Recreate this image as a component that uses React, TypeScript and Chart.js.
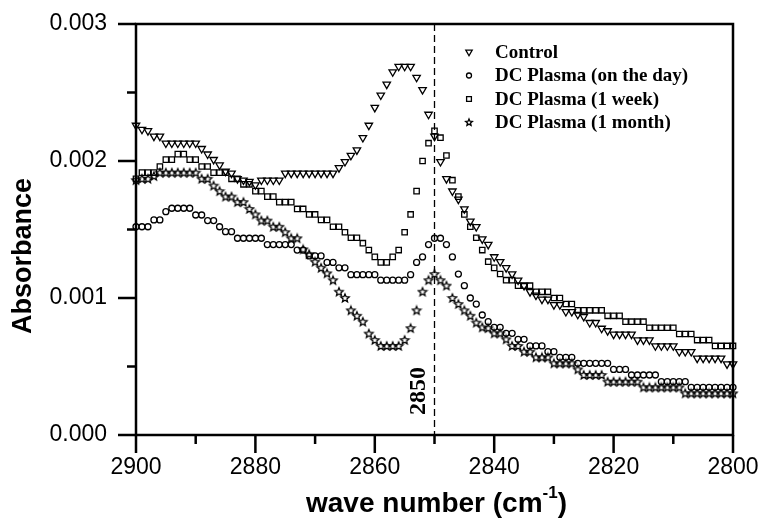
import React, { useEffect, useRef } from 'react';
import { Chart, registerables } from 'chart.js';

Chart.register(...registerables);

// ---------- data ----------
const wavenumbers = [
  2900, 2899, 2898, 2897, 2896, 2895, 2894, 2893, 2892, 2891,
  2890, 2889, 2888, 2887, 2886, 2885, 2884, 2883, 2882, 2881,
  2880, 2879, 2878, 2877, 2876, 2875, 2874, 2873, 2872, 2871,
  2870, 2869, 2868, 2867, 2866, 2865, 2864, 2863, 2862, 2861,
  2860, 2859, 2858, 2857, 2856, 2855, 2854, 2853, 2852, 2851,
  2850, 2849, 2848, 2847, 2846, 2845, 2844, 2843, 2842, 2841,
  2840, 2839, 2838, 2837, 2836, 2835, 2834, 2833, 2832, 2831,
  2830, 2829, 2828, 2827, 2826, 2825, 2824, 2823, 2822, 2821,
  2820, 2819, 2818, 2817, 2816, 2815, 2814, 2813, 2812, 2811,
  2810, 2809, 2808, 2807, 2806, 2805, 2804, 2803, 2802, 2801,
  2800,
];

const control = [
  0.00226, 0.00223, 0.00222, 0.00218, 0.00218, 0.00213, 0.00213, 0.00213, 0.00213, 0.00213,
  0.00213, 0.00209, 0.00205, 0.00201, 0.00197, 0.001925, 0.00191, 0.00187, 0.00186, 0.00185,
  0.001825, 0.00186, 0.00186, 0.00186, 0.00186, 0.00191, 0.00191, 0.00191, 0.00191, 0.00191,
  0.00191, 0.00191, 0.00191, 0.00191, 0.00195, 0.001995, 0.00204, 0.00208, 0.00217, 0.00226,
  0.00239, 0.00248, 0.00256, 0.00265, 0.00269, 0.00269, 0.00269, 0.00261, 0.00252, 0.00234,
  0.00218, 0.001995, 0.00187, 0.00178, 0.00172, 0.00165, 0.00156, 0.00152, 0.00143, 0.00139,
  0.0013, 0.001265, 0.00122, 0.001175, 0.00113, 0.00109, 0.001045, 0.00102, 0.00099, 0.00099,
  0.00095, 0.00095, 0.0009, 0.0009, 0.00088, 0.000864, 0.00082, 0.00082, 0.000778, 0.00076,
  0.000735, 0.000735, 0.000735, 0.000735, 0.000693, 0.000693, 0.000693, 0.00065, 0.00065, 0.00065,
  0.00065, 0.000608, 0.000608, 0.000608, 0.00056, 0.00056, 0.00056, 0.00056, 0.00056, 0.000518,
  0.000518,
];

const dcOnTheDay = [
  0.00152, 0.00152, 0.00152, 0.00157, 0.00157, 0.00163, 0.001655, 0.001655, 0.001655, 0.001655,
  0.001606, 0.001606, 0.001565, 0.001565, 0.00152, 0.001484, 0.001484, 0.001436, 0.001436, 0.001436,
  0.001436, 0.001436, 0.00139, 0.00139, 0.00139, 0.00139, 0.00139, 0.00135, 0.00135, 0.001307,
  0.001307, 0.001307, 0.00126, 0.00126, 0.00122, 0.00122, 0.00117, 0.00117, 0.00117, 0.00117,
  0.00117, 0.00113, 0.00113, 0.00113, 0.00113, 0.00113, 0.00117, 0.00126, 0.0013, 0.00139,
  0.001436, 0.001436, 0.00139, 0.0013, 0.001175, 0.00109, 0.001, 0.000956, 0.000876, 0.000827,
  0.000786, 0.000786, 0.000742, 0.000742, 0.000698, 0.000698, 0.00065, 0.00065, 0.00065, 0.000608,
  0.000608, 0.000567, 0.000567, 0.000567, 0.000523, 0.000523, 0.000523, 0.000523, 0.000523, 0.000523,
  0.000479, 0.000479, 0.000479, 0.000438, 0.000438, 0.000438, 0.000438, 0.000438, 0.000389, 0.000389,
  0.000389, 0.000389, 0.000389, 0.000348, 0.000348, 0.000348, 0.000348, 0.000348, 0.000348, 0.000348,
  0.000348,
];

const dcOneWeek = [
  0.00187, 0.001915, 0.001915, 0.001915, 0.00196, 0.00201, 0.00201, 0.00205, 0.00205, 0.00201,
  0.00201, 0.00196, 0.00196, 0.001915, 0.001915, 0.001915, 0.00187, 0.00187, 0.00183, 0.00183,
  0.00178, 0.00178, 0.00174, 0.00174, 0.0017, 0.0017, 0.0017, 0.00165, 0.00165, 0.00161,
  0.00161, 0.00157, 0.00157, 0.00152, 0.00152, 0.00148, 0.00144, 0.00144, 0.0014, 0.00135,
  0.0013, 0.00126, 0.00126, 0.0013, 0.00135, 0.00148, 0.00161, 0.00178, 0.002, 0.00213,
  0.00222, 0.00217, 0.00204, 0.00186, 0.00174, 0.00161, 0.00152, 0.00144, 0.00135, 0.001265,
  0.00122, 0.001175, 0.00113, 0.00113, 0.00109, 0.00109, 0.00109, 0.001045, 0.001045, 0.001045,
  0.001, 0.001, 0.000956, 0.000956, 0.00091, 0.00091, 0.00091, 0.00091, 0.00091, 0.00087,
  0.00087, 0.00087, 0.000827, 0.000827, 0.000827, 0.000827, 0.000783, 0.000783, 0.000783, 0.000783,
  0.000783, 0.000737, 0.000737, 0.000737, 0.000693, 0.000693, 0.000693, 0.00065, 0.00065, 0.00065,
  0.00065,
];

const dcOneMonth = [
  0.00186, 0.00187, 0.00187, 0.00189, 0.001915, 0.001915, 0.001915, 0.001915, 0.001915, 0.001915,
  0.001915, 0.00187, 0.00187, 0.00182, 0.00178, 0.00174, 0.00174, 0.0017, 0.0017, 0.00165,
  0.00161, 0.001565, 0.001565, 0.00152, 0.00152, 0.00148, 0.001436, 0.001436, 0.001355, 0.00132,
  0.001265, 0.00122, 0.00118, 0.00113, 0.001046, 0.001, 0.00091, 0.00087, 0.000827, 0.00074,
  0.000693, 0.00065, 0.00065, 0.00065, 0.00065, 0.000693, 0.00078, 0.00091, 0.001046, 0.00113,
  0.001175, 0.00113, 0.00109, 0.001, 0.000956, 0.00091, 0.00087, 0.00082, 0.000786, 0.00078,
  0.000742, 0.000742, 0.000698, 0.00065, 0.00065, 0.000608, 0.000608, 0.000567, 0.000567, 0.000567,
  0.000523, 0.000523, 0.000523, 0.000523, 0.000479, 0.000438, 0.000438, 0.000438, 0.000438, 0.000389,
  0.000389, 0.000389, 0.000389, 0.000389, 0.000389, 0.000348, 0.000348, 0.000348, 0.000348, 0.000348,
  0.000348, 0.000348, 0.000304, 0.000304, 0.000304, 0.000304, 0.000304, 0.000304, 0.000304, 0.000304,
  0.000304,
];

const seriesLabels = ['Control', 'DC Plasma (on the day)', 'DC Plasma (1 week)', 'DC Plasma (1 month)'];
const xMajorTicks = [2900, 2880, 2860, 2840, 2820, 2800];
const xMinorTicks = [2890, 2870, 2850, 2830, 2810];
const yMajorTicks = [0, 0.001, 0.002, 0.003];
const yMinorTicks = [0.0005, 0.0015, 0.0025];
const markerWavenumber = 2850;
const markerLabel = '2850';
const xTitle = 'wave number (cm';
const xTitleSup = '-1';
const yTitle = 'Absorbance';

const SANS = '"Liberation Sans", Arial, Helvetica, sans-serif';
const SERIF = '"Liberation Serif", "Times New Roman", Times, serif';

type Kind = 'triangle' | 'circle' | 'square' | 'star';
const kinds: Kind[] = ['triangle', 'circle', 'square', 'star'];

function markerPath(ctx: CanvasRenderingContext2D, kind: Kind, x: number, y: number, s: number) {
  ctx.beginPath();
  if (kind === 'triangle') {
    ctx.moveTo(x, y + s);
    ctx.lineTo(x - s * 0.866, y - s * 0.5);
    ctx.lineTo(x + s * 0.866, y - s * 0.5);
    ctx.closePath();
  } else if (kind === 'circle') {
    ctx.arc(x, y, s, 0, Math.PI * 2);
  } else if (kind === 'square') {
    ctx.rect(x - s, y - s, 2 * s, 2 * s);
  } else {
    const inner = s * 0.45;
    for (let k = 0; k < 10; k++) {
      const r = k % 2 === 0 ? s : inner;
      const a = -Math.PI / 2 + (k * Math.PI) / 5;
      const px = x + r * Math.cos(a);
      const py = y + r * Math.sin(a);
      if (k === 0) ctx.moveTo(px, py);
      else ctx.lineTo(px, py);
    }
    ctx.closePath();
  }
}

const frameAndAnnotations = {
  id: 'frameAndAnnotations',
  beforeDatasetsDraw(chart: any) {
    const { ctx, chartArea } = chart;
    const xs = chart.scales.x;
    const px = xs.getPixelForValue(markerWavenumber);
    ctx.save();
    ctx.strokeStyle = '#000';
    ctx.lineWidth = 1.3;
    ctx.setLineDash([7, 4]);
    ctx.beginPath();
    ctx.moveTo(px, chartArea.top);
    ctx.lineTo(px, chartArea.bottom);
    ctx.stroke();
    ctx.setLineDash([]);
    ctx.translate(px - 16, chartArea.bottom - 44);
    ctx.rotate(-Math.PI / 2);
    ctx.font = `bold 24px ${SERIF}`;
    ctx.fillStyle = '#000';
    ctx.textAlign = 'center';
    ctx.textBaseline = 'middle';
    ctx.fillText(markerLabel, 0, 0);
    ctx.restore();
  },
  afterDraw(chart: any) {
    const { ctx, chartArea } = chart;
    const xs = chart.scales.x;
    const ys = chart.scales.y;
    const { left, right, top, bottom } = chartArea;
    ctx.save();
    ctx.strokeStyle = '#000';
    ctx.lineWidth = 2.5;
    ctx.lineCap = 'butt';
    ctx.beginPath();
    ctx.rect(left, top, right - left, bottom - top);
    ctx.stroke();
    ctx.beginPath();
    xMajorTicks.forEach((v) => {
      const p = xs.getPixelForValue(v);
      ctx.moveTo(p, bottom);
      ctx.lineTo(p, bottom + 18);
    });
    xMinorTicks.forEach((v) => {
      const p = xs.getPixelForValue(v);
      ctx.moveTo(p, bottom);
      ctx.lineTo(p, bottom + 9);
    });
    yMajorTicks.forEach((v) => {
      const p = ys.getPixelForValue(v);
      ctx.moveTo(left, p);
      ctx.lineTo(left - 18, p);
    });
    yMinorTicks.forEach((v) => {
      const p = ys.getPixelForValue(v);
      ctx.moveTo(left, p);
      ctx.lineTo(left - 9, p);
    });
    ctx.stroke();

    // axis titles
    ctx.fillStyle = '#000';
    ctx.textBaseline = 'middle';
    ctx.font = `bold 28px ${SANS}`;
    const mainW = ctx.measureText(xTitle).width;
    ctx.font = `bold 17px ${SANS}`;
    const supW = ctx.measureText(xTitleSup).width;
    ctx.font = `bold 28px ${SANS}`;
    const parW = ctx.measureText(')').width;
    const total = mainW + supW + parW;
    const cx = (left + right) / 2 + 2;
    let x0 = cx - total / 2;
    const ty = 504;
    ctx.textAlign = 'left';
    ctx.fillText(xTitle, x0, ty);
    x0 += mainW;
    ctx.font = `bold 17px ${SANS}`;
    ctx.fillText(xTitleSup, x0, ty - 11);
    x0 += supW;
    ctx.font = `bold 28px ${SANS}`;
    ctx.fillText(')', x0, ty);

    ctx.save();
    ctx.font = `bold 27px ${SANS}`;
    ctx.translate(24, 256);
    ctx.rotate(-Math.PI / 2);
    ctx.textAlign = 'center';
    ctx.fillText(yTitle, 0, 0);
    ctx.restore();

    // legend
    const rows = [52, 75.5, 99, 122.5];
    const sizes = [3.7, 2.5, 2.4, 3.5];
    ctx.lineWidth = 1.3;
    seriesLabels.forEach((label, i) => {
      markerPath(ctx, kinds[i], 469, rows[i], sizes[i]);
      ctx.stroke();
      ctx.font = `bold 19px ${SERIF}`;
      ctx.textAlign = 'left';
      ctx.textBaseline = 'middle';
      ctx.fillText(label, 495, rows[i] + 1);
    });
    ctx.restore();
  },
};

export default function App() {
  const ref = useRef<HTMLCanvasElement>(null);

  useEffect(() => {
    const canvas = ref.current;
    if (!canvas) return;

    const star = document.createElement('canvas');
    star.width = 12;
    star.height = 12;
    const sctx = star.getContext('2d')!;
    sctx.strokeStyle = '#000';
    sctx.lineWidth = 1.25;
    markerPath(sctx, 'star', 6, 6.3, 4.4);
    sctx.stroke();

    const pts = (vals: number[]) => vals.map((v, i) => ({ x: wavenumbers[i], y: v }));
    const common = {
      showLine: false,
      pointBorderColor: '#000',
      pointBackgroundColor: 'rgba(0,0,0,0)',
      pointBorderWidth: 1.3,
      clip: false as any,
    };

    const chart = new Chart(canvas, {
      type: 'scatter',
      data: {
        datasets: [
          { ...common, label: seriesLabels[0], data: pts(control), pointStyle: 'triangle', pointRotation: 180, pointRadius: 4.3 },
          { ...common, label: seriesLabels[1], data: pts(dcOnTheDay), pointStyle: 'circle', pointRadius: 3.0 },
          { ...common, label: seriesLabels[2], data: pts(dcOneWeek), pointStyle: 'rect', pointRadius: 3.8 },
          { ...common, label: seriesLabels[3], data: pts(dcOneMonth), pointStyle: star as any, pointRadius: 4 },
        ] as any,
      },
      options: {
        responsive: false,
        animation: false,
        devicePixelRatio: 1,
        events: [],
        layout: { padding: { left: 0, right: 31, top: 24, bottom: 0 } },
        plugins: { legend: { display: false }, tooltip: { enabled: false } },
        scales: {
          x: {
            type: 'linear',
            reverse: true,
            min: 2800,
            max: 2900,
            grid: { display: false, drawTicks: false },
            border: { display: false },
            ticks: {
              font: { family: SANS, size: 23 },
              color: '#000',
              padding: 19,
              maxRotation: 0,
              autoSkip: false,
              callback: (v: any) => String(v),
            },
            afterBuildTicks: (s: any) => {
              s.ticks = xMajorTicks.map((v) => ({ value: v }));
            },
            afterFit: (s: any) => {
              s.height = 90;
              s.paddingLeft = 0;
              s.paddingRight = 0;
              s.paddingTop = 0;
              s.paddingBottom = 0;
            },
          },
          y: {
            type: 'linear',
            min: 0,
            max: 0.003,
            grid: { display: false, drawTicks: false },
            border: { display: false },
            ticks: {
              font: { family: SANS, size: 23 },
              color: '#000',
              padding: 29,
              autoSkip: false,
              callback: (v: any) => Number(v).toFixed(3),
            },
            afterBuildTicks: (s: any) => {
              s.ticks = yMajorTicks.map((v) => ({ value: v }));
            },
            afterFit: (s: any) => {
              s.width = 136;
              s.paddingLeft = 0;
              s.paddingRight = 0;
              s.paddingTop = 0;
              s.paddingBottom = 0;
            },
          },
        },
      } as any,
      plugins: [frameAndAnnotations],
    });

    return () => chart.destroy();
  }, []);

  return (
    <div style={{ position: 'fixed', left: 0, top: 0, width: 764, height: 525, background: '#fff' }}>
      <canvas ref={ref} width={764} height={525} style={{ display: 'block' }} />
    </div>
  );
}
